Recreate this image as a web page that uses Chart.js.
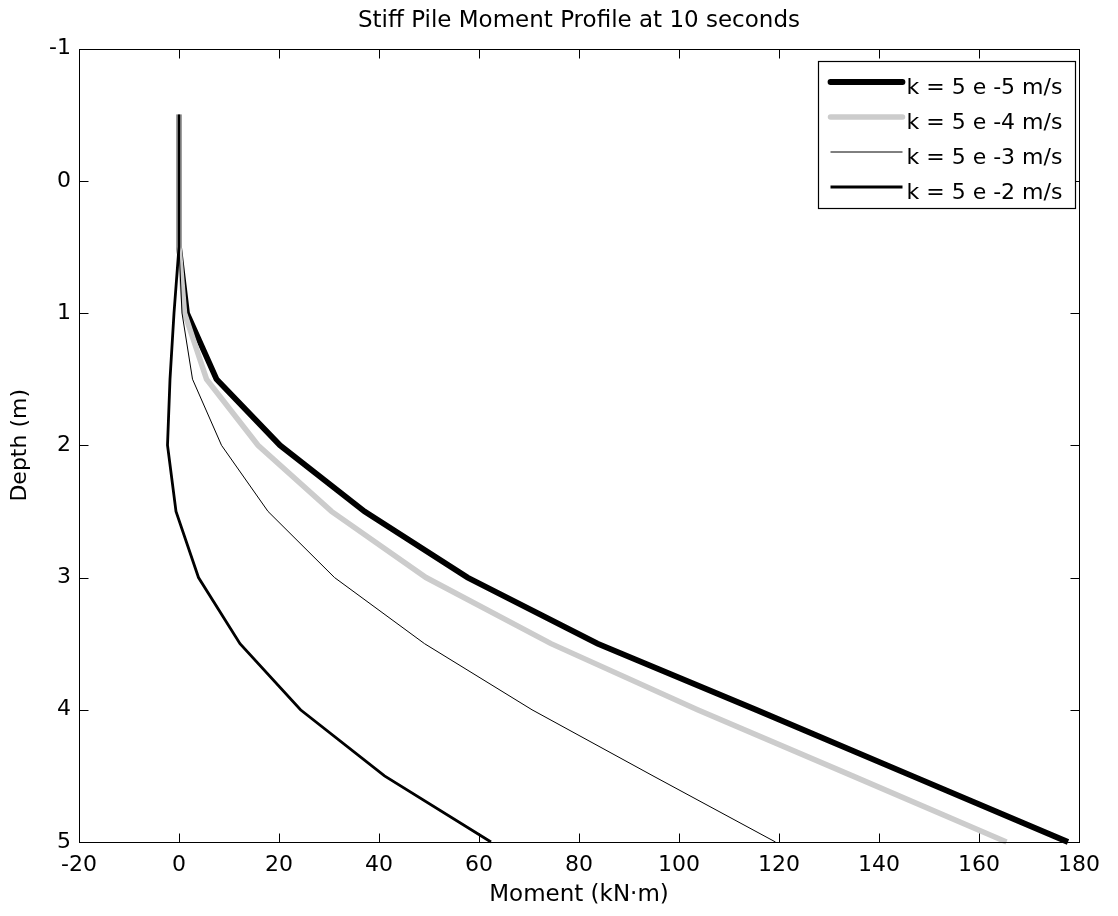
<!DOCTYPE html>
<html><head><meta charset="utf-8">
<script src="https://cdn.jsdelivr.net/npm/chart.js@4/dist/chart.umd.min.js"></script>
<style>html,body{margin:0;padding:0;background:#fff;}canvas{display:block;}</style>
</head><body>
<canvas id="c" width="1118" height="916"></canvas>
<script>
// ---- data ----
const depth      = [-0.5, 0, 0.5, 1, 1.5, 2, 2.5, 3, 3.5, 4, 4.5, 5];
const momentK5e5 = [0, 0, 0, 1.6, 7.5, 20.2, 37.1, 57.7, 83.7, 115.4, 146.6, 177.8];
const momentK5e4 = [0, 0, 0, 1.1, 5.5, 15.8, 30.5, 49.4, 74.4, 103.7, 134.7, 165.5];
const momentK5e3 = [0, 0, 0, 0.6, 2.7, 8.5, 17.8, 31.1, 49.1, 70.6, 94.8, 119.3];
const momentK5e2 = [0, 0, 0, -1.0, -1.8, -2.3, -0.6, 3.9, 12.2, 24.3, 41.1, 62.4];
const seriesLabels = ['k = 5 e -5 m/s', 'k = 5 e -4 m/s', 'k = 5 e -3 m/s', 'k = 5 e -2 m/s'];
const xTickValues = [-20, 0, 20, 40, 60, 80, 100, 120, 140, 160, 180];
const yTickValues = [-1, 0, 1, 2, 3, 4, 5];
const titleText = 'Stiff Pile Moment Profile at 10 seconds';
const xTitle = 'Moment (kN\u00b7m)';
const yTitle = 'Depth (m)';

const FONT = 'DejaVu Sans';
const pts = arr => arr.map((v, i) => ({x: v, y: depth[i]}));

const styles = [
  {color: '#000000', width: 5.8, order: 4},
  {color: '#cccccc', width: 5.5, order: 3},
  {color: '#000000', width: 1,   order: 2},
  {color: '#000000', width: 2.8, order: 1}
];
const seriesData = [momentK5e5, momentK5e4, momentK5e3, momentK5e2];

const datasets = seriesData.map((d, i) => ({
  label: seriesLabels[i],
  data: pts(d),
  showLine: true,
  borderColor: styles[i].color,
  backgroundColor: styles[i].color,
  borderWidth: styles[i].width,
  pointRadius: 0,
  pointHoverRadius: 0,
  tension: 0,
  order: styles[i].order,
  clip: 6
}));

const framePlugin = {
  id: 'frame',
  afterDraw(chart) {
    const {ctx, chartArea: a, scales: {x, y}} = chart;
    ctx.save();
    ctx.strokeStyle = '#000';
    ctx.lineWidth = 1;
    const l = Math.round(a.left) + 0.5, r = Math.round(a.right) + 0.5;
    const t = Math.round(a.top) + 0.5, b = Math.round(a.bottom) + 0.5;
    ctx.strokeRect(l, t, r - l, b - t);
    const L = 9;
    ctx.beginPath();
    x.ticks.forEach(tk => {
      const px = Math.round(x.getPixelForValue(tk.value)) + 0.5;
      ctx.moveTo(px, b); ctx.lineTo(px, b - L);
      ctx.moveTo(px, t); ctx.lineTo(px, t + L);
    });
    y.ticks.forEach(tk => {
      const py = Math.round(y.getPixelForValue(tk.value)) + 0.5;
      ctx.moveTo(l, py); ctx.lineTo(l + L, py);
      ctx.moveTo(r, py); ctx.lineTo(r - L, py);
    });
    ctx.stroke();

    // legend box (top-right, inside axes)
    const bw = 257, bh = 147;
    const bx = Math.round(a.right) - 4 - bw + 0.5;
    const by = Math.round(a.top) + 12 + 0.5;
    ctx.fillStyle = '#fff';
    ctx.fillRect(bx, by, bw, bh);
    ctx.lineWidth = 1.2;
    ctx.strokeRect(bx, by, bw, bh);
    ctx.font = '22px "' + FONT + '"';
    ctx.textAlign = 'left';
    ctx.textBaseline = 'alphabetic';
    chart.data.datasets.forEach((ds, i) => {
      const rowY = by + 20.5 + i * 35;
      ctx.beginPath();
      ctx.strokeStyle = ds.borderColor;
      ctx.lineWidth = ds.borderWidth;
      ctx.lineCap = ds.borderWidth > 3 ? 'round' : 'butt';
      ctx.moveTo(bx + 12, rowY);
      ctx.lineTo(bx + 84, rowY);
      ctx.stroke();
      ctx.fillStyle = '#000';
      ctx.fillText(ds.label, bx + 88, rowY + 11.5);
    });
    ctx.restore();
  }
};

new Chart(document.getElementById('c'), {
  type: 'scatter',
  data: {datasets},
  options: {
    responsive: false,
    animation: false,
    devicePixelRatio: 1,
    layout: {padding: {left: 0, right: 39, top: 0, bottom: 0}},
    plugins: {
      legend: {display: false},
      tooltip: {enabled: false},
      title: {
        display: true,
        fullSize: false,
        text: titleText,
        color: '#000',
        font: {family: FONT, size: 23, weight: 'normal'},
        padding: {top: 7, bottom: 14}
      }
    },
    scales: {
      x: {
        type: 'linear',
        position: 'bottom',
        min: -20, max: 180,
        grid: {display: false, drawTicks: false},
        border: {display: false},
        afterBuildTicks: s => { s.ticks = xTickValues.map(v => ({value: v})); },
        ticks: {color: '#000', font: {family: FONT, size: 22}, padding: 10, maxRotation: 0, autoSkip: false},
        title: {display: true, text: xTitle, color: '#000', font: {family: FONT, size: 23}, padding: {top: 0, bottom: 7}},
        afterFit: s => { s.height = 74; }
      },
      y: {
        type: 'linear',
        position: 'left',
        reverse: true,
        min: -1, max: 5,
        grid: {display: false, drawTicks: false},
        border: {display: false},
        afterBuildTicks: s => { s.ticks = yTickValues.map(v => ({value: v})); },
        ticks: {color: '#000', font: {family: FONT, size: 22}, padding: 8, autoSkip: false},
        title: {display: true, text: yTitle, color: '#000', font: {family: FONT, size: 22}, padding: {top: 7, bottom: 0}},
        afterFit: s => { s.width = 79; }
      }
    }
  },
  plugins: [framePlugin]
});
</script>
</body></html>
